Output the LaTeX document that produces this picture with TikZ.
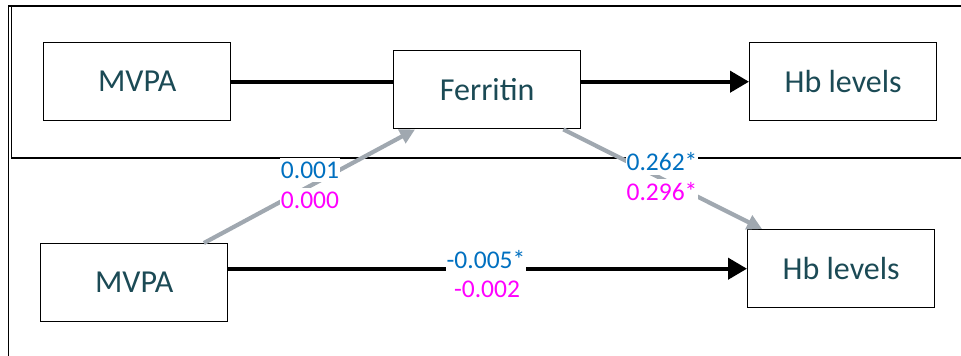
\documentclass[tikz,border=0pt]{standalone}
\usepackage{fontspec}
\setmainfont{Carlito}
\usetikzlibrary{arrows.meta,calc}
\definecolor{boxtext}{HTML}{1B4A55}
\definecolor{lblblue}{HTML}{0070C0}
\definecolor{lblmag}{HTML}{FF00FF}
\definecolor{arrgray}{HTML}{A0A8B0}
\tikzset{
  varbox/.style={draw=black, line width=1.4pt, minimum width=187pt, minimum height=78pt,
    inner sep=0pt, text=boxtext, font=\fontsize{32}{38}\selectfont, anchor=north west},
  mainarrow/.style={line width=4.2pt, draw=black},
  tipblack/.style={-{Triangle[length=19pt,width=21pt]}},
  grayarrow/.style={line width=4.2pt, draw=arrgray, -{Triangle[length=15pt,width=15pt]}},
  frameline/.style={line width=1.4pt, draw=black},
  coef/.style={fill=white, inner xsep=1pt, inner ysep=3.5pt, font=\fontsize{25.5}{29}\selectfont},
}
\begin{document}
\begin{tikzpicture}[x=1pt,y=-1pt]
\useasboundingbox (0,0) rectangle (961,356);
% frames
\draw[frameline] (8.5,356) -- (8.5,6) -- (961,6);
\draw[frameline] (11.5,6) -- (11.5,158) -- (961,158);
% boxes
\node[varbox] (mvpaA) at (43,42) {MVPA};
\node[varbox] (ferr) at (393,50) {Ferritin};
\node[varbox] (hbA) at (749,42) {Hb levels};
\node[varbox] (mvpaB) at (40,243) {MVPA};
\node[varbox] (hbB) at (747,229) {Hb levels};
% connection points
\coordinate (g1s) at ($(mvpaB.north west)!0.87!(mvpaB.north east)$);
\coordinate (g1e) at ($(ferr.south west)!0.117!(ferr.south east)$);
\coordinate (g2s) at ($(ferr.south west)!0.904!(ferr.south east)$);
\coordinate (g2e) at ($(hbB.north west)!0.08!(hbB.north east)$);
% connectors
\draw[mainarrow] (mvpaA.east) -- (mvpaA.east -| ferr.west);
\draw[mainarrow, tipblack] (ferr.east |- hbA.west) -- (hbA.west);
\draw[mainarrow, tipblack] (mvpaB.east |- hbB.west) -- (hbB.west);
\draw[grayarrow] (g1s) -- (g1e);
\draw[grayarrow] (g2s) -- (g2e);
% coefficients
\node[coef, text=lblblue] (c1a) at (310,170) {0.001};
\node[coef, text=lblmag] (c1b) at (310,200) {0.000};
\node[coef, text=lblblue] (c2a) at (662,162) {0.262*};
\node[coef, text=lblmag] (c2b) at (662,192) {0.296*};
\node[coef, text=lblblue] (c3a) at (486,260) {-0.005*};
\node[coef, text=lblmag] (c3b) at (487,289) {-0.002};
\end{tikzpicture}
\end{document}
